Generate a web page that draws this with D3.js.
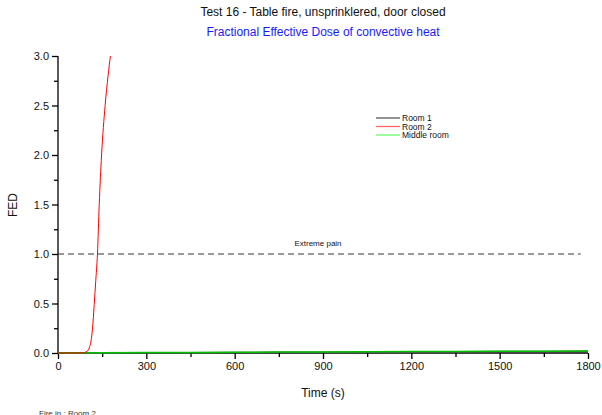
<!DOCTYPE html>
<html><head><meta charset="utf-8">
<script src="https://cdn.jsdelivr.net/npm/d3@7"></script>
<style>body{margin:0;background:#fff}svg{display:block;font-family:"Liberation Sans",Arial,sans-serif}</style>
</head><body><svg id="c" width="602" height="415"></svg>
<script>
const title = "Test 16 - Table fire, unsprinklered, door closed";
const subtitle = "Fractional Effective Dose of convective heat";
const xTicks = [0, 300, 600, 900, 1200, 1500, 1800];
const yTicks = [0.0, 0.5, 1.0, 1.5, 2.0, 2.5, 3.0];
const seriesNames = ["Room 1", "Room 2", "Middle room"];
const seriesColors = ["#555555", "#ff0000", "#00ee00"];
const room1T = [0, 300, 600, 900, 1200, 1500, 1800];
const room1V = [0, 0.002, 0.005, 0.008, 0.011, 0.014, 0.017];
const room2T = [0, 80, 90, 100, 106, 112, 117, 123, 128, 134, 140, 148, 160, 170, 178];
const room2V = [0, 0, 0.005, 0.02, 0.05, 0.12, 0.24, 0.49, 0.72, 1.0, 1.5, 2.0, 2.5, 2.8, 3.0];
const midT = [0, 300, 600, 900, 1200, 1500, 1800];
const midV = [0, 0.004, 0.008, 0.011, 0.014, 0.017, 0.02];
const refLevel = 1.0, refEnd = 1775, refLabel = "Extreme pain";

const svg = d3.select("#c");
const x = d3.scaleLinear().domain([0, 1800]).range([58, 588]);
const y = d3.scaleLinear().domain([0, 3]).range([353, 56]);

svg.append("g").attr("transform", "translate(0,353)")
  .call(d3.axisBottom(x).tickValues(xTicks).tickFormat(d3.format("d")).tickSize(6).tickPadding(3));
svg.append("g").attr("transform", "translate(0,353)")
  .call(d3.axisBottom(x).tickValues(d3.range(150, 1800, 300)).tickFormat("").tickSize(4));
svg.append("g").attr("transform", "translate(58,0)")
  .call(d3.axisLeft(y).tickValues(yTicks).tickFormat(d3.format(".1f")).tickSize(6).tickPadding(3));
svg.append("g").attr("transform", "translate(58,0)")
  .call(d3.axisLeft(y).tickValues(d3.range(0.25, 3, 0.5)).tickFormat("").tickSize(4));
svg.selectAll(".tick line").attr("stroke", "#000").attr("stroke-width", 1.3);
svg.selectAll(".tick text").attr("font-size", 11).attr("fill", "#111").attr("font-family", "Liberation Sans, Arial, sans-serif");
svg.selectAll(".domain").remove();
svg.append("line").attr("x1", 58).attr("x2", 588).attr("y1", 353).attr("y2", 353).attr("stroke", "#000").attr("stroke-width", 1.3);
svg.append("line").attr("x1", 58).attr("x2", 58).attr("y1", 56).attr("y2", 353).attr("stroke", "#000").attr("stroke-width", 1.3);

svg.append("line").attr("x1", x(0)).attr("x2", x(refEnd)).attr("y1", y(refLevel)).attr("y2", y(refLevel))
  .attr("stroke", "#333").attr("stroke-dasharray", "6,4").attr("stroke-width", 1);
svg.append("text").attr("x", x(900) - 5).attr("y", y(refLevel) - 8).attr("text-anchor", "middle")
  .attr("font-size", 8).attr("fill", "#111").text(refLabel);

const line = d3.line().x(d => x(d[0])).y(d => y(d[1])).curve(d3.curveMonotoneX);
const z = (t, v) => t.map((d, i) => [d, v[i]]);
svg.append("path").attr("d", line(z(room1T, room1V))).attr("fill", "none").attr("stroke", seriesColors[0]).attr("stroke-width", 1.5);
svg.append("path").attr("d", line(z(midT, midV))).attr("fill", "none").attr("stroke", "#00c000").attr("stroke-width", 1.5);
svg.append("path").attr("d", line(z(room2T, room2V))).attr("fill", "none").attr("stroke", seriesColors[1]).attr("stroke-width", 1);

const leg = svg.append("g");
const legColors = ["#555555", "#ff6666", "#66ff66"];
seriesNames.forEach((n, i) => {
  const yy = 118 + i * 8.5;
  leg.append("line").attr("x1", 376).attr("x2", 400).attr("y1", yy).attr("y2", yy).attr("stroke", legColors[i]).attr("stroke-width", 1.3);
  leg.append("text").attr("x", 402).attr("y", yy + 3).attr("font-size", 8.5).attr("fill", "#111").text(n);
});

svg.append("text").attr("x", 323).attr("y", 16).attr("text-anchor", "middle").attr("font-size", 12).attr("fill", "#111").text(title);
svg.append("text").attr("x", 323).attr("y", 36).attr("text-anchor", "middle").attr("font-size", 12).attr("fill", "#1a1aff").text(subtitle);
svg.append("text").attr("transform", "translate(17,205) rotate(-90)").attr("text-anchor", "middle").attr("font-size", 12).attr("fill", "#111").text("FED");
svg.append("text").attr("x", 323).attr("y", 397).attr("text-anchor", "middle").attr("font-size", 12).attr("fill", "#111").text("Time (s)");
svg.append("text").attr("x", 39).attr("y", 416).attr("font-size", 8).attr("fill", "#333").text("Fire in : Room 2");
</script></body></html>
